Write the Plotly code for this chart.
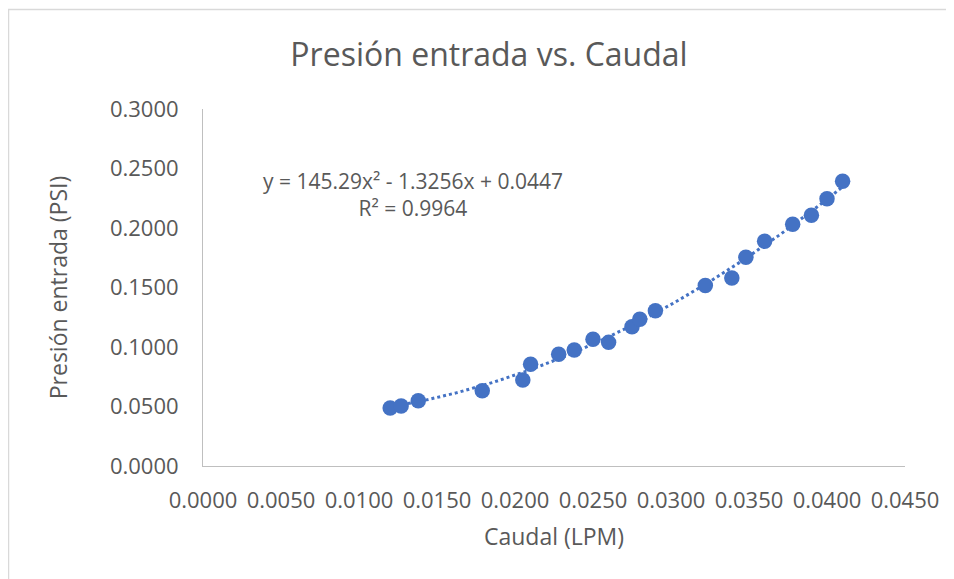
import numpy as np
import plotly.graph_objects as go

# Data
caudal_lpm = [0.0120, 0.0127, 0.0138, 0.0179, 0.0205, 0.0210, 0.0228, 0.0238,
              0.0250, 0.0260, 0.0275, 0.0280, 0.0290, 0.0322, 0.0339, 0.0348,
              0.0360, 0.0378, 0.0390, 0.0400, 0.0410]
presion_psi = [0.0487, 0.0505, 0.0549, 0.0633, 0.0723, 0.0855, 0.0939, 0.0975,
               0.1065, 0.1039, 0.1171, 0.1233, 0.1305, 0.1516, 0.1580, 0.1754,
               0.1888, 0.2031, 0.2107, 0.2246, 0.2392]

# Trendline (polynomial order 2) as displayed on the chart
trend_coefs = [145.29, -1.3256, 0.0447]
r_squared = 0.9964

x_ticks = [0.0, 0.005, 0.01, 0.015, 0.02, 0.025, 0.03, 0.035, 0.04, 0.045]
y_ticks = [0.0, 0.05, 0.10, 0.15, 0.20, 0.25, 0.30]

title_text = "Presión entrada vs. Caudal"
x_title = "Caudal (LPM)"
y_title = "Presión entrada (PSI)"

TEXT = "#595959"
BLUE = "#4472C4"
FONT = "Open Sans"

tx = np.linspace(min(caudal_lpm), max(caudal_lpm), 200)
ty = np.polyval(trend_coefs, tx)

fig = go.Figure()
fig.add_trace(go.Scatter(
    x=tx, y=ty, mode="lines",
    line=dict(color=BLUE, width=3, dash="dot"),
    hoverinfo="skip", showlegend=False,
))
fig.add_trace(go.Scatter(
    x=caudal_lpm, y=presion_psi, mode="markers",
    marker=dict(color=BLUE, size=15.5, line=dict(width=0)),
    showlegend=False,
))

eq = (f"y = {trend_coefs[0]:.2f}x² - {abs(trend_coefs[1]):.4f}x + {trend_coefs[2]:.4f}"
      f"<br>R² = {r_squared:.4f}")

# page has an 8px body margin; work in page pixels and convert
OFF = 8
W, H = 954 - OFF, 579 - OFF
L, R, T, B = 203 - OFF, 954 - 905, 109 - OFF, 579 - 466
pw, ph = W - L - R, H - T - B


def px_x(p):
    return (p - OFF - L) / pw


def px_y(p):
    return (H - B - (p - OFF)) / ph


fig.update_layout(
    width=W, height=H,
    margin=dict(l=L, r=R, t=T, b=B, autoexpand=False),
    paper_bgcolor="white", plot_bgcolor="white",
    font=dict(family=FONT, color=TEXT, size=22),
    title=dict(text=title_text, x=(489 - OFF) / W, xanchor="center",
               y=1 - (55 - OFF) / H, yanchor="middle", yref="container",
               font=dict(size=32, color=TEXT, family=FONT)),
    xaxis=dict(
        range=[0, 0.045], tickvals=x_ticks, tickformat=".4f",
        showgrid=False, zeroline=False, showline=True,
        linecolor="#BFBFBF", linewidth=1,
        ticks="outside", ticklen=0, ticklabelstandoff=15,
        tickfont=dict(size=22, color=TEXT),
        title=dict(text=x_title, font=dict(size=23, color=TEXT), standoff=15),
    ),
    yaxis=dict(
        range=[0, 0.3], tickvals=y_ticks, tickformat=".4f",
        showgrid=False, zeroline=False, showline=True,
        linecolor="#BFBFBF", linewidth=1,
        ticks="outside", ticklen=0, ticklabelstandoff=19,
        tickfont=dict(size=22, color=TEXT),
        title=dict(text=y_title, font=dict(size=23, color=TEXT), standoff=35),
    ),
    annotations=[dict(
        text=eq, xref="paper", yref="paper",
        x=px_x(413), y=px_y(194), xanchor="center", yanchor="middle",
        align="center", showarrow=False,
        font=dict(size=21, color=TEXT, family=FONT),
    )],
    shapes=[dict(
        type="rect", xref="paper", yref="paper",
        x0=px_x(8.5), y0=px_y(600), x1=px_x(970), y1=px_y(9.5),
        line=dict(color="#D9D9D9", width=1.5), fillcolor="rgba(0,0,0,0)",
        layer="below",
    )],
)

fig.write_html("out.html")
